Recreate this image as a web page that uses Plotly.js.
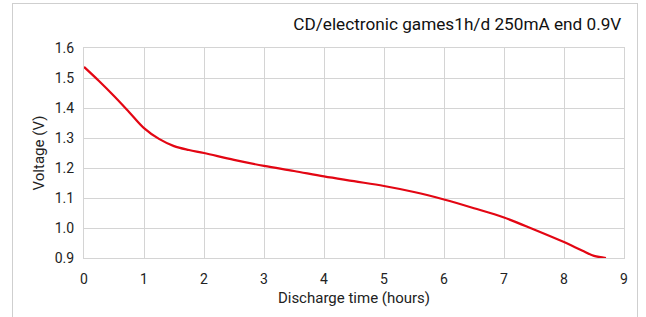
<!DOCTYPE html>
<html><head><meta charset="utf-8">
<script src="https://cdn.plot.ly/plotly-3.0.1.min.js"></script>
<style>html,body{margin:0;padding:0;background:#fff;}#frame{position:absolute;left:12px;top:3px;width:626px;height:330px;border:1px solid #cfcfcf;box-sizing:border-box;}#chart{position:absolute;left:0;top:0;width:646px;height:317px;}</style>
</head><body>
<div id="frame"></div>
<div id="chart"></div>
<script>
const hours = [0, 0.25, 0.5, 0.75, 1, 1.25, 1.5, 1.75, 2, 2.5, 3, 3.5, 4, 4.5, 5, 5.5, 6, 6.5, 7, 7.5, 8, 8.3, 8.5, 8.7];
const voltage = [1.537, 1.49, 1.44, 1.387, 1.333, 1.297, 1.273, 1.26, 1.25, 1.227, 1.207, 1.19, 1.172, 1.156, 1.14, 1.12, 1.095, 1.066, 1.035, 0.995, 0.953, 0.925, 0.907, 0.9];
const titleText = "CD/electronic games1h/d 250mA end 0.9V";
const xTitle = "Discharge time (hours)";
const yTitle = "Voltage (V)";
const yTicks = [0.9, 1.0, 1.1, 1.2, 1.3, 1.4, 1.5, 1.6];
const yTickText = ["0.9", "1.0", "1.1", "1.2", "1.3", "1.4", "1.5", "1.6"];

const font = "Roboto, 'DejaVu Sans', sans-serif";
Plotly.newPlot('chart', [{
  x: hours, y: voltage, type: 'scatter', mode: 'lines',
  line: {color: '#e30613', width: 2.2, shape: 'spline', smoothing: 1},
  hoverinfo: 'none'
}], {
  width: 646, height: 317,
  paper_bgcolor: 'rgba(0,0,0,0)', plot_bgcolor: '#fff',
  margin: {l: 84, r: 22, t: 48, b: 59},
  showlegend: false,
  font: {family: font, color: '#222', size: 14},
  title: {text: titleText, x: 0.995, xanchor: 'right', xref: 'paper', y: 0.925, yanchor: 'middle', font: {family: font, size: 17.2, color: '#111'}},
  xaxis: {
    range: [0, 9], dtick: 1, tick0: 0, showgrid: true, gridcolor: '#d4d4d4', gridwidth: 1,
    zeroline: false, showline: true, linecolor: '#d4d4d4', mirror: true, ticks: '',
    ticklabelstandoff: 8, tickfont: {size: 14, color: '#222'},
    title: {text: xTitle, font: {size: 15, color: '#222'}, standoff: 6}
  },
  yaxis: {
    range: [0.9, 1.6], tickvals: yTicks, ticktext: yTickText, showgrid: true, gridcolor: '#d4d4d4',
    zeroline: false, showline: true, linecolor: '#d4d4d4', mirror: true, ticks: '',
    ticklabelstandoff: 6, tickfont: {size: 14, color: '#222'},
    title: {text: yTitle, font: {size: 15, color: '#222'}, standoff: 6}
  }
}, {staticPlot: true, displayModeBar: false});
</script>
</body></html>
